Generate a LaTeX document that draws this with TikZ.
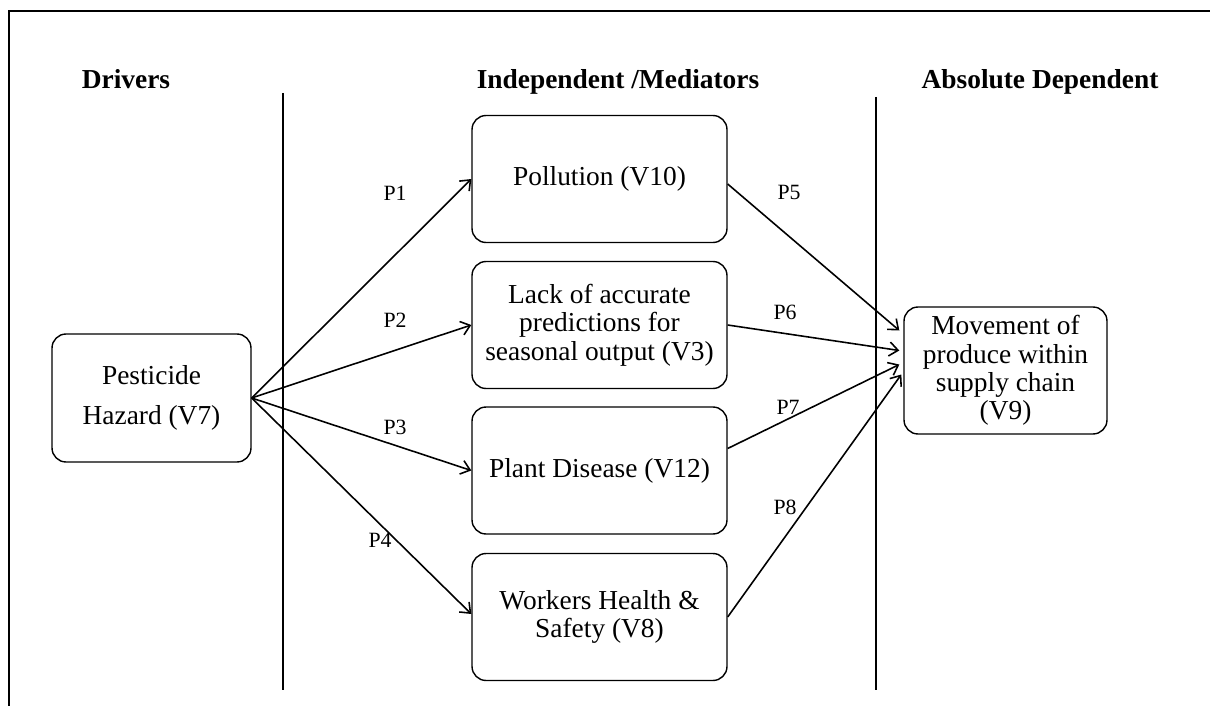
\documentclass[tikz,border=0pt]{standalone}
\usepackage{fontspec}
\setmainfont{Liberation Serif}
\usetikzlibrary{arrows.meta, positioning, calc}

\begin{document}
\begin{tikzpicture}[x=0.02cm, y=-0.02cm,
    varbox/.style={draw, rounded corners=0.28cm, line width=0.8pt, align=center,
                   font=\fontsize{15.6}{16.2}\selectfont, inner sep=2pt},
    midbox/.style={varbox, minimum width=5.1cm, minimum height=2.54cm},
    link/.style={-{Straight Barb[length=5pt,width=8pt]}, line width=0.9pt},
    plabel/.style={font=\fontsize{12.4}{14}\selectfont},
    header/.style={font=\fontsize{15.6}{18}\selectfont\bfseries, anchor=base},
    divider/.style={line width=1.1pt}]
    \useasboundingbox (0,0) rectangle (1210,706);

    % Frame and column dividers
    \draw[line width=1.4pt] (9,706) |- (1210,11);
    \draw[divider] (283,93) -- (283,690);
    \draw[divider] (876,97) -- (876,690);

    % Column headers
    \node[header] (hdrDrivers) at (126,89) {Drivers};
    \node[header] (hdrMed) at (618,89) {Independent /Mediators};
    \node[header] (hdrDep) at (1040,89) {Absolute Dependent};

    % Driver
    \node[varbox, minimum width=3.98cm, minimum height=2.56cm] (haz) at (151.5,398)
        {Pesticide\\[0.22cm] Hazard (V7)};

    % Mediators
    \node[midbox] (pol) at (599.5,179) {Pollution (V10)};
    \node[midbox] (lack) at (599.5,325)
        {Lack of accurate\\ predictions for\\ seasonal output (V3)};
    \node[midbox] (plant) at (599.5,470.5) {Plant Disease (V12)};
    \node[midbox] (work) at (599.5,617) {Workers Health \&\\ Safety (V8)};

    % Dependent
    \node[varbox, minimum width=4.06cm, minimum height=2.54cm] (mov) at (1005.5,370.5)
        {Movement of\\ produce within\\ supply chain\\ (V9)};

    % Paths P1--P4
    \draw[link] (haz.east) -- (pol.west);
    \draw[link] (haz.east) -- (lack.west);
    \draw[link] (haz.east) -- (plant.west);
    \draw[link] (haz.east) -- ($(work.west)+(0,-3)$);

    % Paths P5--P8
    \draw[link] ($(pol.east)+(0,5)$) -- ($(mov.west)+(-4,-40)$);
    \draw[link] (lack.east) -- ($(mov.west)+(-4,-20)$);
    \draw[link] ($(plant.east)+(0,-22)$) -- ($(mov.west)+(-4,-6)$);
    \draw[link] (work.east) -- ($(mov.west)+(-2,4)$);

    % Path labels
    \node[plabel] (p1) at (395,193) {P1};
    \node[plabel] (p2) at (395,320) {P2};
    \node[plabel] (p3) at (395,427) {P3};
    \node[plabel] (p4) at (380,540) {P4};
    \node[plabel] (p5) at (789,192) {P5};
    \node[plabel] (p6) at (785,312) {P6};
    \node[plabel] (p7) at (788,407) {P7};
    \node[plabel] (p8) at (785,507) {P8};
\end{tikzpicture}
\end{document}
